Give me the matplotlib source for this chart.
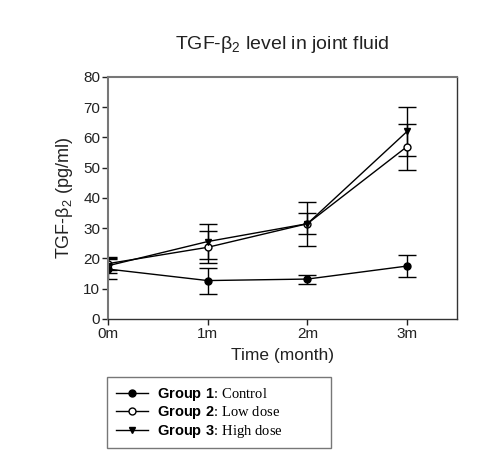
import matplotlib
matplotlib.use("Agg")
import matplotlib.pyplot as plt

plt.rcParams['font.family'] = ['Liberation Sans', 'DejaVu Sans']
plt.rcParams['mathtext.fontset'] = 'custom'
plt.rcParams['mathtext.rm'] = 'Liberation Sans'
plt.rcParams['mathtext.bf'] = 'Liberation Sans:bold'

months = [0, 1, 2, 3]
month_labels = ['0m', '1m', '2m', '3m']

control = [16.5, 12.7, 13.2, 17.5]
control_err = [3.3, 4.3, 1.5, 3.6]
low_dose = [18.3, 23.7, 31.5, 57.0]
low_dose_err = [2.2, 5.3, 3.5, 7.6]
high_dose = [17.6, 25.6, 31.5, 62.0]
high_dose_err = [2.5, 5.9, 7.3, 8.0]

fig = plt.figure(figsize=(4.8, 4.58), dpi=100)
ax = fig.add_axes([0.225, 0.3035, 0.727, 0.5285])

kw = dict(color='black', lw=1.0, capsize=6.5, elinewidth=1.0, capthick=1.0, ms=5)
c1 = ax.errorbar(months, control, yerr=control_err, marker='o', mfc='black', **kw)
c2 = ax.errorbar(months, low_dose, yerr=low_dose_err, marker='o', mfc='white', **kw)
c3 = ax.errorbar(months, high_dose, yerr=high_dose_err, marker='v', mfc='black', **kw)

ax.set_xlim(0, 3.5)
ax.set_ylim(0, 80)
ax.set_yticks(range(0, 81, 10))
ax.set_xticks(months)
ax.set_xticklabels(month_labels)
ax.tick_params(labelsize=11, length=4, width=1, pad=1.5, colors='#222222')
for side in ['left', 'top']:
    ax.spines[side].set_color('#777777')
    ax.spines[side].set_linewidth(1.5)
for side in ['right', 'bottom']:
    ax.spines[side].set_color('#333333')
    ax.spines[side].set_linewidth(1.0)

ax.set_title(r'TGF-β$_2$ level in joint fluid', fontsize=14, pad=20, color='#222222')
ax.set_ylabel(r'TGF-β$_2$ (pg/ml)', fontsize=13, labelpad=6, color='#222222')
ax.set_xlabel('Time (month)', fontsize=12.5, labelpad=5, color='#222222')

labels = [r'$\mathbf{Group\ 1}$: Control',
          r'$\mathbf{Group\ 2}$: Low dose',
          r'$\mathbf{Group\ 3}$: High dose']
leg = fig.legend([c1[0], c2[0], c3[0]], labels,
                 loc='upper left', bbox_to_anchor=(0.223, 0.0197, 0.467, 0.157),
                 mode='expand',
                 prop={'family': 'Liberation Serif', 'size': 10.5},
                 frameon=True, fancybox=False, edgecolor='#555555',
                 handlelength=2.2, handletextpad=0.6, labelspacing=0.1,
                 borderpad=0.6, borderaxespad=0)
leg.get_frame().set_linewidth(1.0)

fig.savefig('out.png', dpi=100)
